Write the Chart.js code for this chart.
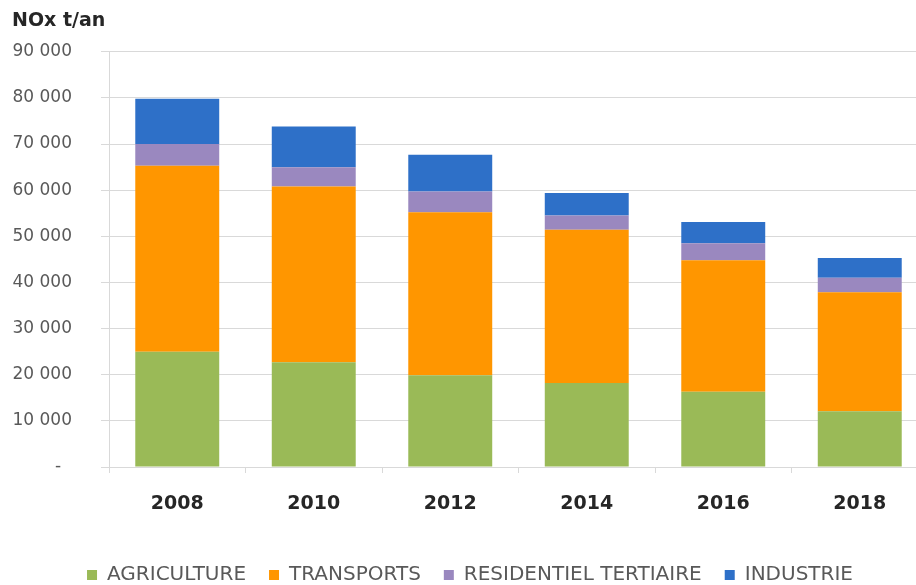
<!DOCTYPE html>
<html>
<head>
<meta charset="utf-8">
<script src="https://cdn.jsdelivr.net/npm/chart.js@4.4.1/dist/chart.umd.min.js"></script>
<style>
  html, body { margin: 0; padding: 0; background: #ffffff; overflow: hidden; }
</style>
</head>
<body>
<canvas id="noxChart" width="930" height="585"></canvas>
<script>
// NOx emissions by sector (t/an)
const years = ['2008', '2010', '2012', '2014', '2016', '2018'];
const agriculture = [25000, 22700, 19900, 18200, 16300, 12100];
const transports = [40300, 38100, 35300, 33200, 28500, 25800];
const residentiel = [4700, 4200, 4500, 3100, 3700, 3100];
const industrie = [9800, 8800, 8000, 4900, 4600, 4300];
const yTickLabels = ['-  ', '10 000', '20 000', '30 000', '40 000', '50 000', '60 000', '70 000', '80 000', '90 000'];

const FONT = 'DejaVu Sans';
const GRID = '#d9d9d9';

function bar(label, data, color) {
    return {
        label: label,
        data: data,
        backgroundColor: color,
        borderWidth: 0,
        barPercentage: 0.615,
        categoryPercentage: 1.0
    };
}

const ctx = document.getElementById('noxChart').getContext('2d');
const noxChart = new Chart(ctx, {
    type: 'bar',
    data: {
        labels: years,
        datasets: [
            bar('AGRICULTURE', agriculture, '#9aba57'),
            bar('TRANSPORTS', transports, '#ff9600'),
            bar('RESIDENTIEL TERTIAIRE', residentiel, '#9a88bf'),
            bar('INDUSTRIE', industrie, '#2e70c8')
        ]
    },
    options: {
        responsive: false,
        animation: false,
        layout: {
            padding: { left: 12, right: 2, top: 0, bottom: -10 }
        },
        plugins: {
            title: {
                display: true,
                text: 'NOx t/an',
                align: 'start',
                color: '#262626',
                font: { family: FONT, size: 19, weight: 'bold' },
                padding: { top: 10, bottom: 19 }
            },
            legend: {
                position: 'bottom',
                // empty title only used as spacing above the legend items
                title: {
                    display: true,
                    text: '',
                    font: { size: 1 },
                    padding: { top: 5, bottom: 0 }
                },
                labels: {
                    boxWidth: 10,
                    boxHeight: 10,
                    padding: 23,
                    color: '#595959',
                    font: { family: FONT, size: 20 }
                }
            },
            tooltip: { enabled: false }
        },
        scales: {
            x: {
                stacked: true,
                grid: {
                    display: true,
                    drawOnChartArea: false,
                    drawTicks: true,
                    tickLength: 6,
                    color: GRID
                },
                border: { color: GRID },
                ticks: {
                    color: '#262626',
                    padding: 20,
                    font: { family: FONT, size: 19, weight: 'bold' }
                }
            },
            y: {
                stacked: true,
                min: 0,
                max: 90000,
                afterFit: (scale) => { scale.width = 97; },
                grid: { color: GRID, tickLength: 8 },
                border: { color: GRID },
                ticks: {
                    stepSize: 10000,
                    padding: 29,
                    color: '#595959',
                    font: { family: FONT, size: 17 },
                    callback: (value) => yTickLabels[Math.round(value / 10000)]
                }
            }
        }
    }
});
</script>
</body>
</html>
